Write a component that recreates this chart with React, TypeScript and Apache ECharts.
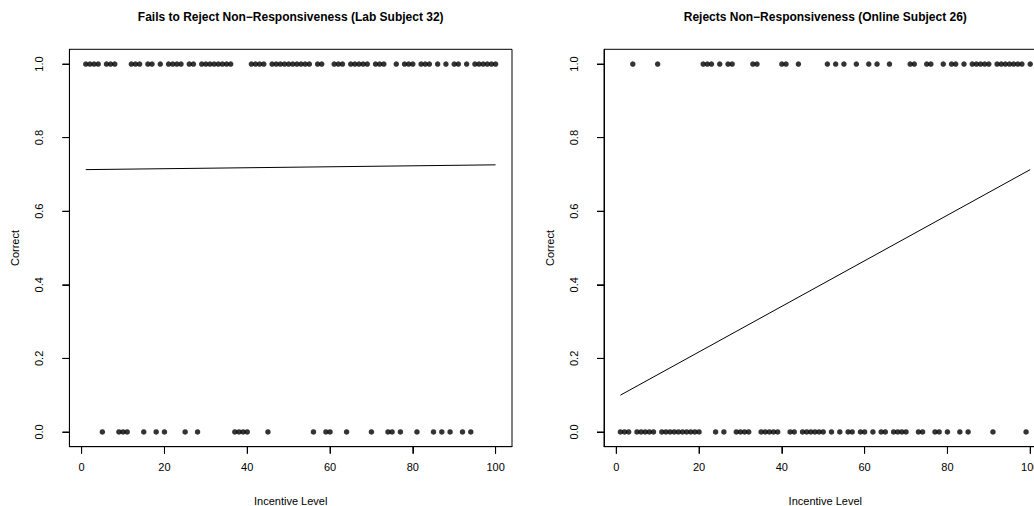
import React, { useEffect, useRef } from "react";
import * as echarts from "echarts";

// Incentive levels answered correctly / incorrectly
const labCorrectLevels = [1, 2, 3, 4, 6, 7, 8, 12, 13, 14, 16, 17, 19, 21, 22, 23, 24, 26, 27, 29, 30, 31, 32, 33, 34, 35, 36, 41, 42, 43, 44, 46, 47, 48, 49, 50, 51, 52, 53, 54, 55, 57, 58, 61, 62, 63, 65, 66, 67, 68, 69, 71, 72, 73, 76, 78, 79, 80, 82, 83, 84, 86, 88, 90, 91, 93, 95, 96, 97, 98, 99, 100];
const labIncorrectLevels = [5, 9, 10, 11, 15, 18, 20, 25, 28, 37, 38, 39, 40, 45, 56, 59, 60, 64, 70, 74, 75, 77, 81, 85, 87, 89, 92, 94];
const onlineCorrectLevels = [4, 10, 21, 22, 23, 25, 27, 28, 33, 34, 40, 41, 44, 51, 53, 55, 58, 61, 63, 66, 71, 72, 75, 76, 79, 81, 82, 84, 86, 87, 88, 89, 90, 92, 93, 94, 95, 96, 97, 98, 100];
const onlineIncorrectLevels = [1, 2, 3, 5, 6, 7, 8, 9, 11, 12, 13, 14, 15, 16, 17, 18, 19, 20, 24, 26, 29, 30, 31, 32, 35, 36, 37, 38, 39, 42, 43, 45, 46, 47, 48, 49, 50, 52, 54, 56, 57, 59, 60, 62, 64, 65, 67, 68, 69, 70, 73, 74, 77, 78, 80, 83, 85, 91, 99];

// Fitted lines (endpoints at incentive 1 and 100)
const fitX = [1, 100];
const labFitY = [0.713, 0.726];
const onlineFitY = [0.1, 0.713];

const xTicks = [0, 20, 40, 60, 80, 100];
const yTicks = [0, 0.2, 0.4, 0.6, 0.8, 1.0];

const titles = [
  "Fails to Reject Non\u2212Responsiveness (Lab Subject 32)",
  "Rejects Non\u2212Responsiveness (Online Subject 26)",
];
const xName = "Incentive Level";
const yName = "Correct";

const X_MIN = -2.96;
const X_MAX = 103.96;
const Y_MIN = -0.04;
const Y_MAX = 1.04;
const TICK_LEN = 7;

const FONT = "'Liberation Sans', Arial, Helvetica, sans-serif";

export default function App() {
  const ref = useRef<HTMLDivElement>(null);
  useEffect(() => {
    if (!ref.current) return;
    const chart = echarts.init(ref.current, null, { renderer: "svg" });
    const grids = [
      { left: 69.4, top: 49.3, width: 442.6, height: 397.4 },
      { left: 604, top: 49.3, width: 442.6, height: 397.4 },
    ];
    const xAxisBase = (i: number) => ({
      type: "value",
      gridIndex: i,
      min: X_MIN,
      max: X_MAX,
      name: xName,
      nameLocation: "middle",
      nameGap: 49,
      nameTextStyle: { fontFamily: FONT, fontSize: 11, color: "#000" },
      axisLine: { show: true, onZero: false, lineStyle: { color: "#000", width: 1 } },
      splitLine: { show: false },
      axisTick: { show: true, length: TICK_LEN, lineStyle: { color: "#000", width: 1 }, customValues: xTicks },
      axisLabel: { show: true, margin: 15, fontFamily: FONT, fontSize: 11, color: "#000", customValues: xTicks, formatter: (v: number) => String(v) },
    });
    const yAxisBase = (i: number) => ({
      type: "value",
      gridIndex: i,
      min: Y_MIN,
      max: Y_MAX,
      name: yName,
      nameLocation: "middle",
      nameGap: 49,
      nameRotate: 90,
      nameTextStyle: { fontFamily: FONT, fontSize: 11, color: "#000" },
      axisLine: { show: true, onZero: false, lineStyle: { color: "#000", width: 1 } },
      splitLine: { show: false },
      axisTick: { show: true, length: TICK_LEN, lineStyle: { color: "#000", width: 1 }, customValues: yTicks },
      axisLabel: { show: true, rotate: 90, margin: 25, fontFamily: FONT, fontSize: 11, color: "#000", customValues: yTicks, formatter: (v: number) => v.toFixed(1) },
    });
    const pts = (c: number[], w: number[]) => [
      ...c.map((l) => [l, 1]),
      ...w.map((l) => [l, 0]),
    ];
    const scatter = (i: number, data: number[][]) => ({
      type: "scatter",
      xAxisIndex: i,
      yAxisIndex: i,
      data,
      symbol: "circle",
      symbolSize: 5.5,
      itemStyle: { color: "#000" },
      silent: true,
    });
    const fit = (i: number, ys: number[]) => ({
      type: "line",
      xAxisIndex: i,
      yAxisIndex: i,
      data: fitX.map((x, k) => [x, ys[k]]),
      showSymbol: false,
      symbol: "none",
      lineStyle: { color: "#000", width: 1 },
      silent: true,
    });
    // Outward ticks, placed through the axes' own scales
    const xTickSeries = (i: number) => ({
      type: "custom",
      xAxisIndex: i,
      yAxisIndex: i,
      clip: false,
      silent: true,
      data: xTicks.map((v) => [v, Y_MIN]),
      renderItem: (_p: any, api: any) => {
        const p = api.coord([api.value(0), api.value(1)]);
        return {
          type: "line",
          shape: { x1: p[0], y1: p[1], x2: p[0], y2: p[1] + TICK_LEN },
          style: { stroke: "#000", lineWidth: 1 },
        };
      },
    });
    const yTickSeries = (i: number) => ({
      type: "custom",
      xAxisIndex: i,
      yAxisIndex: i,
      clip: false,
      silent: true,
      data: yTicks.map((v) => [X_MIN, v]),
      renderItem: (_p: any, api: any) => {
        const p = api.coord([api.value(0), api.value(1)]);
        return {
          type: "line",
          shape: { x1: p[0], y1: p[1], x2: p[0] - TICK_LEN, y2: p[1] },
          style: { stroke: "#000", lineWidth: 1 },
        };
      },
    });
    chart.setOption({
      animation: false,
      grid: grids.map((g) => ({ ...g, show: true, borderColor: "#000", borderWidth: 1, outerBoundsMode: "none", containLabel: false })),
      xAxis: [xAxisBase(0), xAxisBase(1)],
      yAxis: [yAxisBase(0), yAxisBase(1)],
      series: [
        scatter(0, pts(labCorrectLevels, labIncorrectLevels)),
        fit(0, labFitY),
        xTickSeries(0),
        yTickSeries(0),
        scatter(1, pts(onlineCorrectLevels, onlineIncorrectLevels)),
        fit(1, onlineFitY),
        xTickSeries(1),
        yTickSeries(1),
      ],
      graphic: [
        { type: "text", x: 69.4 + 442.6 / 2, y: 17, style: { text: titles[0], font: `bold 12px ${FONT}`, fill: "#000", textAlign: "center", textVerticalAlign: "middle" } },
        { type: "text", x: 604 + 442.6 / 2, y: 17, style: { text: titles[1], font: `bold 12px ${FONT}`, fill: "#000", textAlign: "center", textVerticalAlign: "middle" } },
      ],
    });
    return () => chart.dispose();
  }, []);
  return (
    <div
      ref={ref}
      style={{ position: "fixed", left: 0, top: 0, width: 1034, height: 506, background: "#fff" }}
    />
  );
}
